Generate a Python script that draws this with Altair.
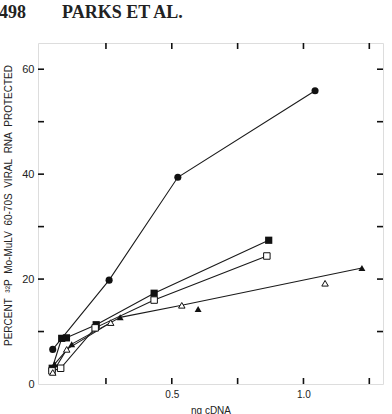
import altair as alt
import pandas as pd

# ---- data ----
circle_x = [0.048, 0.262, 0.523, 1.044]
circle_y = [6.6, 19.8, 39.4, 55.9]

fsq_x = [0.046, 0.082, 0.100, 0.213, 0.433, 0.868]
fsq_y = [3.0, 8.7, 8.8, 11.3, 17.3, 27.4]

osq_x = [0.045, 0.078, 0.209, 0.433, 0.861]
osq_y = [2.5, 3.0, 10.7, 16.0, 24.4]

ftri_x = [0.055, 0.120, 0.304, 0.600, 1.222]
ftri_y = [3.8, 7.6, 12.7, 14.3, 22.1]

otri_x = [0.048, 0.101, 0.268, 0.538, 1.082]
otri_y = [2.2, 6.6, 11.7, 15.0, 19.2]

# hand-drawn connecting lines (vertices)
tri_line_x = [0.055, 0.120, 0.268, 0.304, 0.538, 1.222]
tri_line_y = [3.8, 7.6, 11.7, 12.7, 15.0, 22.1]
otri_line_x = [0.048, 0.101, 0.268]
otri_line_y = [2.2, 6.6, 11.7]

x_ticks = [0.25, 0.5, 0.75, 1.0, 1.25]
y_ticks = [10, 20, 30, 40, 50, 60]
y_labels = [0, 20, 40, 60]
x_labels = [0.5, 1.0]

W, H = 345, 341
XD = [-0.008, 1.302]
YD = [0, 65]
TICK = 6

def pts(xs, ys):
    return pd.DataFrame({"x": xs, "y": ys})

lines = []
for name, xs, ys in [("circle", circle_x, circle_y), ("fsq", fsq_x, fsq_y),
                     ("osq", osq_x, osq_y), ("tri", tri_line_x, tri_line_y),
                     ("otri", otri_line_x, otri_line_y)]:
    for i, (a, b) in enumerate(zip(xs, ys)):
        lines.append({"series": name, "x": a, "y": b, "o": i})
lines_df = pd.DataFrame(lines)

x_enc = alt.X("x:Q", scale=alt.Scale(domain=XD, nice=False, zero=False), axis=alt.Axis(
    orient="bottom", values=x_labels, format=".1f", ticks=False, domain=False, grid=False,
    labelFont="Liberation Sans", labelFontSize=10, labelColor="#222", labelPadding=5,
    title="ng cDNA", titleFont="Liberation Sans", titleFontSize=10, titleFontWeight="normal",
    titleColor="#222", titlePadding=6))

y_enc = alt.Y("y:Q", scale=alt.Scale(domain=YD, nice=False, zero=False), axis=alt.Axis(
    orient="left", values=y_labels, format="d", ticks=False, domain=False, grid=False,
    labelFont="Liberation Sans", labelFontSize=11, labelColor="#222", labelPadding=4,
    title="PERCENT\u00a0\u00a0³²P\u00a0\u00a0Mo-MuLV\u00a0\u00a060-70S\u00a0\u00a0VIRAL\u00a0\u00a0RNA\u00a0\u00a0PROTECTED",
    titleFont="Liberation Sans", titleFontSize=10, titleFontWeight="normal", titleColor="#222",
    titleAngle=270, titleX=-30, titleY=162, titleAlign="center", titleBaseline="middle"))

line_layer = alt.Chart(lines_df).mark_line(color="#1a1a1a", strokeWidth=1.1).encode(
    x=x_enc, y=y_enc, detail="series:N", order="o:Q")

# inward tick marks on all four edges of the frame
ytk = pd.DataFrame({"y": y_ticks})
xtk = pd.DataFrame({"x": x_ticks})
tick_style = dict(color="#111", strokeWidth=1.6, opacity=1)
yt_left = alt.Chart(ytk).mark_rule(**tick_style).encode(
    y="y:Q", x=alt.value(0), x2=alt.value(TICK))
yt_right = alt.Chart(ytk).mark_rule(**tick_style).encode(
    y="y:Q", x=alt.value(W - TICK), x2=alt.value(W))
xt_bottom = alt.Chart(xtk).mark_rule(**tick_style).encode(
    x="x:Q", y=alt.value(H - TICK), y2=alt.value(H))
xt_top = alt.Chart(xtk).mark_rule(**tick_style).encode(
    x="x:Q", y=alt.value(0), y2=alt.value(TICK))

circ = alt.Chart(pts(circle_x, circle_y)).mark_point(
    shape="circle", filled=True, color="#111", size=50, opacity=1).encode(x="x:Q", y="y:Q")

fsq = alt.Chart(pts(fsq_x, fsq_y)).mark_point(
    shape="square", filled=True, color="#111", size=52, opacity=1).encode(x="x:Q", y="y:Q")

osq = alt.Chart(pts(osq_x, osq_y)).mark_point(
    shape="square", filled=True, fill="white", stroke="#111", strokeWidth=1, size=42,
    opacity=1).encode(x="x:Q", y="y:Q")

otri = alt.Chart(pts(otri_x, otri_y)).mark_point(
    shape="triangle-up", filled=True, fill="white", stroke="#111", strokeWidth=1, size=42,
    opacity=1).encode(x="x:Q", y="y:Q")

ftri = alt.Chart(pts(ftri_x, ftri_y)).mark_point(
    shape="triangle-up", filled=True, color="#111", size=48, opacity=1).encode(x="x:Q", y="y:Q")

chart = alt.layer(line_layer, yt_left, yt_right, xt_bottom, xt_top,
                  circ, fsq, osq, otri, ftri).properties(
    width=W, height=H,
    autosize=alt.AutoSizeParams(type="none"),
    padding={"left": 38, "top": 43, "right": 9, "bottom": 30},
    title=alt.TitleParams(
        text="498\u00a0\u00a0\u00a0\u00a0\u00a0\u00a0\u00a0\u00a0PARKS ET AL.",
        anchor="start", frame="group", offset=20, dx=-39,
        font="Liberation Serif", fontSize=18, fontWeight="bold", color="#222"),
).configure_view(stroke="#111", strokeWidth=1.2).configure(background="white")

chart.save("out.html", embed_options={"renderer": "svg", "actions": False})
